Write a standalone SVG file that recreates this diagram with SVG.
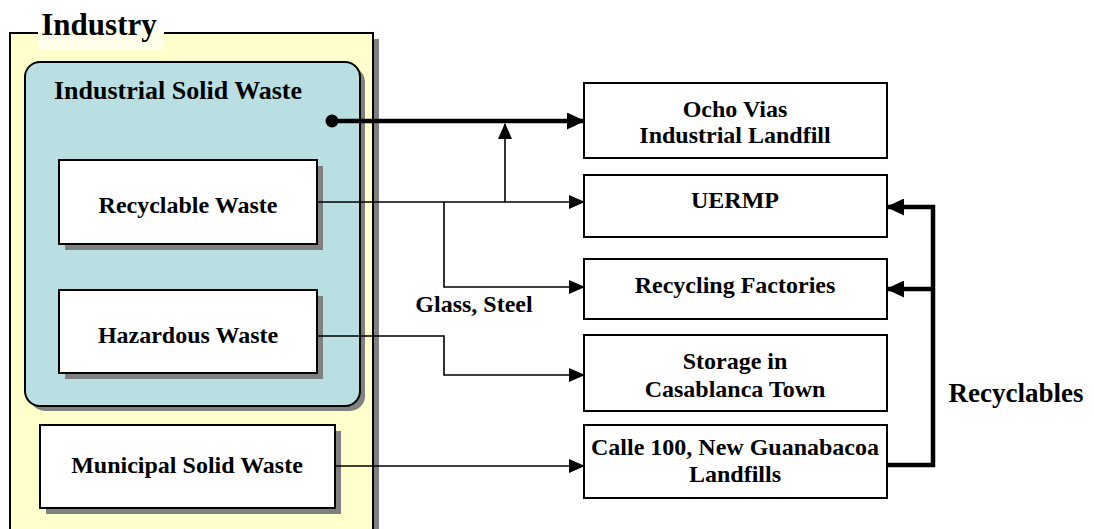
<svg xmlns="http://www.w3.org/2000/svg" width="1094" height="529" viewBox="0 0 1094 529">
  <defs>
    <marker id="arrow" markerUnits="userSpaceOnUse" markerWidth="16" markerHeight="14" refX="15" refY="7" orient="auto">
      <path d="M0,0 L16,7 L0,14 Z" fill="#000"/>
    </marker>
    <marker id="arrow-bold" markerUnits="userSpaceOnUse" markerWidth="18" markerHeight="17" refX="17" refY="8.5" orient="auto">
      <path d="M0,0 L18,8.5 L0,17 Z" fill="#000"/>
    </marker>
  </defs>
  <style>
    .t { font-family: "Liberation Serif", "Times New Roman", serif; font-weight: bold; fill: #000; text-anchor: middle; font-size: 24px; }
    .box { fill: #fff; stroke: #000; stroke-width: 2; }
    .shadow { fill: #808080; }
    .thin { fill: none; stroke: #000; stroke-width: 1.6; }
    .thick { fill: none; stroke: #000; stroke-width: 4.5; }
  </style>
  <rect width="1094" height="529" fill="#fff"/>

  <!-- Industry container -->
  <g id="industry">
    <rect class="shadow" x="16" y="39" width="363" height="500"/>
    <rect x="10" y="33" width="363" height="510" fill="#FFFFCC" stroke="#000" stroke-width="2"/>
    <rect x="38" y="30" width="126" height="20" fill="#FFFFEA"/>
    <text class="t" x="99" y="35" style="font-size:31px">Industry</text>
  </g>

  <!-- Industrial solid waste group -->
  <g id="industrial-solid-waste">
    <rect class="shadow" x="30" y="67" width="335" height="344" rx="15"/>
    <rect x="25" y="62" width="335" height="344" rx="15" fill="#B9DFE3" stroke="#000" stroke-width="2"/>
    <text class="t" x="178" y="99" style="font-size:26px">Industrial Solid Waste</text>
  </g>

  <g id="recyclable-waste">
    <rect class="shadow" x="65" y="166" width="258" height="84"/>
    <rect class="box" x="59" y="160" width="258" height="84"/>
    <text class="t" x="188" y="213">Recyclable Waste</text>
  </g>

  <g id="hazardous-waste">
    <rect class="shadow" x="65" y="296" width="258" height="83"/>
    <rect class="box" x="59" y="290" width="258" height="83"/>
    <text class="t" x="188" y="343">Hazardous Waste</text>
  </g>

  <g id="municipal-solid-waste">
    <rect class="shadow" x="46" y="431" width="295" height="83"/>
    <rect class="box" x="40" y="425" width="295" height="83"/>
    <text class="t" x="187" y="473">Municipal Solid Waste</text>
  </g>

  <!-- Destinations -->
  <g id="ocho-vias">
    <rect class="box" x="584" y="83" width="303" height="75"/>
    <text class="t" x="735" y="117">Ocho Vias</text>
    <text class="t" x="735" y="143">Industrial Landfill</text>
  </g>

  <g id="uermp">
    <rect class="box" x="584" y="175" width="303" height="62"/>
    <text class="t" x="735" y="208">UERMP</text>
  </g>

  <g id="recycling-factories">
    <rect class="box" x="584" y="259" width="303" height="60"/>
    <text class="t" x="735" y="293">Recycling Factories</text>
  </g>

  <g id="storage">
    <rect class="box" x="584" y="335" width="303" height="76"/>
    <text class="t" x="735" y="369">Storage in</text>
    <text class="t" x="735" y="397">Casablanca Town</text>
  </g>

  <g id="calle-100">
    <rect class="box" x="584" y="425" width="303" height="73"/>
    <text class="t" x="735" y="455">Calle 100, New Guanabacoa</text>
    <text class="t" x="735" y="482">Landfills</text>
  </g>

  <!-- Connectors -->
  <g id="connectors">
    <circle cx="332" cy="121" r="6.5" fill="#000"/>
    <path class="thick" d="M332,121 H584" marker-end="url(#arrow-bold)"/>
    <path class="thin" d="M317,202 H584" marker-end="url(#arrow)"/>
    <path class="thin" d="M505,202 V124" marker-end="url(#arrow)"/>
    <path class="thin" d="M444,202 V287 H584" marker-end="url(#arrow)"/>
    <path class="thin" d="M317,336 H444 V375 H584" marker-end="url(#arrow)"/>
    <path class="thin" d="M335,466 H584" marker-end="url(#arrow)"/>
    <path class="thick" d="M887,465 H933 V207 H887" marker-end="url(#arrow-bold)"/>
    <path class="thick" d="M933,289 H887" marker-end="url(#arrow-bold)"/>
    <text class="t" x="474" y="312">Glass, Steel</text>
    <text class="t" x="1016" y="402" style="font-size:27px">Recyclables</text>
  </g>
</svg>
